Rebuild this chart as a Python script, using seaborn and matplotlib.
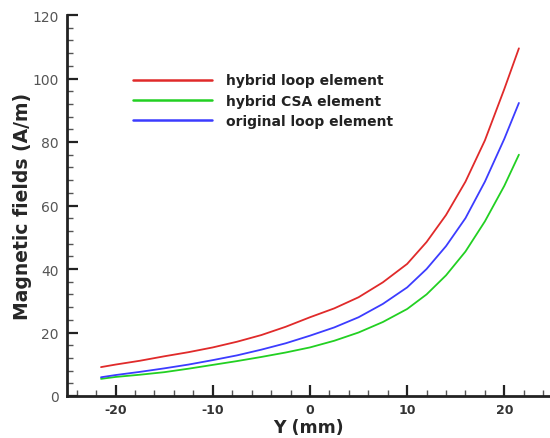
import numpy as np
import pandas as pd
import matplotlib
matplotlib.use("Agg")
import matplotlib.pyplot as plt
from matplotlib.ticker import MultipleLocator
import seaborn as sns

# values
y_mm = [-21.5, -20, -17.5, -15, -12.5, -10, -7.5, -5, -2.5, 0,
        2.5, 5, 7.5, 10, 12, 14, 16, 18, 20, 21.5]
hybrid_loop = [9.1, 9.9, 11.1, 12.5, 13.8, 15.3, 17.1, 19.2, 21.8, 24.8,
               27.6, 31.1, 35.8, 41.6, 48.5, 57.0, 67.5, 80.5, 96.7, 109.5]
hybrid_csa = [5.4, 6.0, 6.7, 7.5, 8.6, 9.8, 11.0, 12.3, 13.7, 15.3,
              17.4, 20.0, 23.3, 27.4, 32.0, 38.0, 45.5, 55.0, 66.2, 76.0]
original_loop = [5.9, 6.6, 7.6, 8.7, 9.9, 11.3, 12.8, 14.6, 16.6, 19.0,
                 21.6, 24.8, 29.0, 34.2, 40.0, 47.2, 56.0, 67.5, 81.0, 92.3]

labels = ["hybrid loop element", "hybrid CSA element", "original loop element"]
colors = ["#e02a2a", "#22d022", "#3c3cff"]

df = pd.concat([
    pd.DataFrame({"Y": y_mm, "H": vals, "series": lab})
    for lab, vals in zip(labels, [hybrid_loop, hybrid_csa, original_loop])
])

sns.set_theme(style="ticks")
plt.rcParams["font.family"] = ["DejaVu Sans"]
plt.rcParams["axes.unicode_minus"] = False

fig = plt.figure(figsize=(5.5, 4.39), dpi=100)
ax = fig.add_axes([67 / 550, 42 / 439, 1 - 67 / 550, 381 / 439])

sns.lineplot(data=df, x="Y", y="H", hue="series", hue_order=labels,
             palette=colors, linewidth=1.3, sort=False, ax=ax)

ax.set_xlim(-25, 24.7)
ax.set_ylim(0, 120)
ax.xaxis.set_major_locator(MultipleLocator(10))
ax.xaxis.set_minor_locator(MultipleLocator(2))
ax.yaxis.set_major_locator(MultipleLocator(20))
ax.yaxis.set_minor_locator(MultipleLocator(4))

for side in ["top", "right"]:
    ax.spines[side].set_visible(False)
for side in ["left", "bottom"]:
    ax.spines[side].set_linewidth(2.0)
    ax.spines[side].set_color("#222222")

ax.tick_params(which="major", direction="in", length=8, width=1.6, color="#222222")
ax.tick_params(which="minor", direction="in", length=4, width=1.0, color="#555555")
ax.tick_params(axis="y", labelsize=10, labelcolor="#555555", pad=6)
ax.tick_params(axis="x", labelsize=9, labelcolor="#333333", pad=5)
for t in ax.get_xticklabels():
    t.set_fontweight("bold")

ax.set_xlabel("Y (mm)", fontsize=12.5, fontweight="bold", labelpad=1.5)
ax.set_ylabel("Magnetic fields (A/m)", fontsize=13.5, fontweight="bold", labelpad=0)

leg = ax.legend(loc="upper left", bbox_to_anchor=(126 / 550, 1 - 67.5 / 439),
                bbox_transform=fig.transFigure, frameon=False, borderpad=0,
                handlelength=5.7, handletextpad=1.0, labelspacing=0.44,
                prop={"size": 10, "weight": "bold"})
for line in leg.get_lines():
    line.set_linewidth(1.8)
for t in leg.get_texts():
    t.set_color("#222222")

fig.savefig("out.png", dpi=100)
